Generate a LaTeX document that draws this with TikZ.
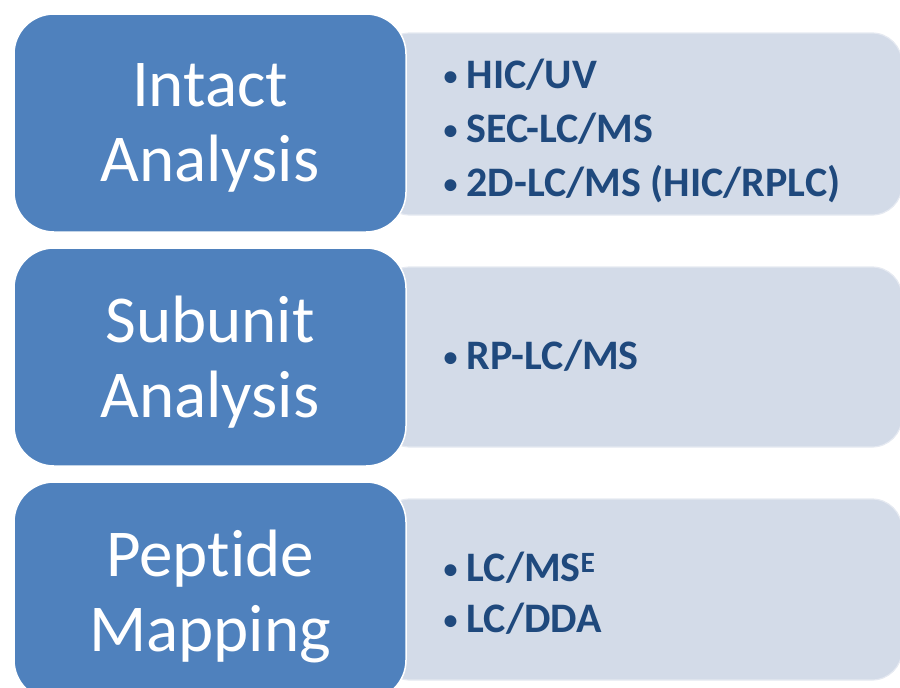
\documentclass[tikz,border=0pt]{standalone}
\usepackage{fontspec}
\setmainfont{Carlito}[Ligatures=NoCommon]

\definecolor{boxblue}{HTML}{4F81BD}
\definecolor{boxpale}{HTML}{D3DBE8}
\definecolor{itemblue}{HTML}{1F497D}

\newcommand{\itm}{\makebox[19pt][l]{\hspace*{-4pt}\raisebox{3pt}{\fontsize{28}{28}\selectfont\textbullet}}}

\begin{document}
\begin{tikzpicture}[x=1pt,y=-1pt,
  stage/.style={rectangle, rounded corners=40pt, fill=boxblue, draw=white, line width=1.5pt,
    minimum width=392pt, minimum height=218pt},
  title/.style={text=white, align=center, inner sep=0pt,
    font=\fontsize{67}{75}\selectfont},
  methods/.style={rectangle, rounded corners=30pt, fill=boxpale, draw=boxpale!60!white,
    line width=1.2pt, minimum width=522pt},
  items/.style={anchor=west, text=itemblue, align=left, inner sep=0pt,
    font=\bfseries\fontsize{42}{54}\selectfont}]
\clip (0,0) rectangle (900,688);
%\draw[help lines] (0,0) grid[step=50] (900,688);

% pale boxes go first, the blue ones sit on their left ends
\node[methods, minimum height=182pt] (intactbox) at (641,124) {};
\node[methods, minimum height=180pt] (subunitbox) at (641,357) {};
\node[methods, minimum height=181pt] (peptidebox) at (641,589.5) {};

\node[items] (intactlist) at ([xshift=68pt,yshift=-7pt]intactbox.west) {\itm HIC/UV\\\itm SEC-LC/MS\\\itm 2D-LC/MS (HIC/RPLC)};
\node[items] (subunitlist) at ([xshift=68pt,yshift=1pt]subunitbox.west) {\itm RP-LC/MS};
\node[items, font=\bfseries\fontsize{42}{51}\selectfont] (peptidelist) at ([xshift=68pt,yshift=-4pt]peptidebox.west) {\itm LC/MS\textsuperscript{E}\\\itm LC/DDA};

\node[stage] (intact) at (210,123) {};
\node[stage] (subunit) at (210,357) {};
\node[stage] (peptide) at (210,591) {};

\node[title] (intacttitle) at ([yshift=-5pt]intact.center) {Intact\\Analysis};
\node[title] (subunittitle) at ([yshift=-5pt]subunit.center) {Subunit\\Analysis};
\node[title] (peptidetitle) at ([yshift=-5pt]peptide.center) {Peptide\\Mapping};
\end{tikzpicture}
\end{document}
